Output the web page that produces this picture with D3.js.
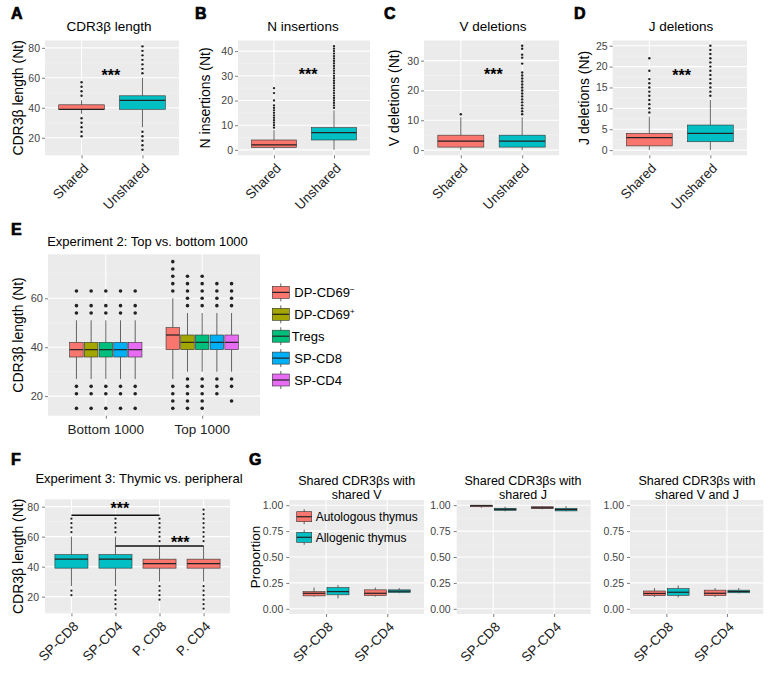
<!DOCTYPE html>
<html><head><meta charset="utf-8">
<script src="https://cdn.jsdelivr.net/npm/d3@7"></script>
<style>body{margin:0;background:#fff;}</style>
</head><body><svg id="c" width="771" height="690"></svg>
<script>
// ================= DATA =================
// Panel A: CDR3β length
const catsA = ["Shared", "Unshared"];
const boxesA = [
  {cat:"Shared",   lo:36, q1:39, med:39, q3:42, hi:45, out:[21,24,27,30,33,48,51,54,57]},
  {cat:"Unshared", lo:27, q1:39, med:45, q3:48, hi:60, out:[12,15,18,21,24,63,66,69,72,75,78,81]}
];
const ticksA = [20,40,60,80];
const starA = [0.48, 64];

// Panel B: N insertions
const catsB = ["Shared", "Unshared"];
const boxesB = [
  {cat:"Shared",   lo:0, q1:1, med:2, q3:4, hi:8,  out:[9,10,11,12,13,14,15,16,17,18,20,23,25]},
  {cat:"Unshared", lo:0, q1:4, med:7, q3:9, hi:16, out:[17,18,19,20,21,22,23,24,25,26,27,28,29,30,31,32,33,34,35,36,37,38,39,40,41,42]}
];
const ticksB = [0,10,20,30,40];
const starB = [0.57, 32.2];

// Panel C: V deletions
const catsC = ["Shared", "Unshared"];
const boxesC = [
  {cat:"Shared",   lo:0, q1:1, med:3, q3:5, hi:11, out:[12]},
  {cat:"Unshared", lo:0, q1:1, med:3, q3:5, hi:11, out:[12,13,14,15,16,17,18,19,20,21,22,23,24,25,26,29,31,32,34,35]}
];
const ticksC = [0,10,20,30];
const starC = [0.53, 26.5];

// Panel D: J deletions
const catsD = ["Shared", "Unshared"];
const boxesD = [
  {cat:"Shared",   lo:0, q1:1, med:3, q3:4, hi:8,  out:[9,10,11,12,13,14,15,16,17,19,22]},
  {cat:"Unshared", lo:0, q1:2, med:4, q3:6, hi:12, out:[13,14,15,16,17,18,19,20,21,22,23,24,25]}
];
const ticksD = [0,5,10,15,20,25];
const starD = [0.53, 18.7];

// Panel E: Experiment 2
const catsE = ["Bottom 1000", "Top 1000"];
const seriesE = ["DP-CD69-", "DP-CD69+", "Tregs", "SP-CD8", "SP-CD4"];
const boxesE = [
  {cat:"Bottom 1000", s:"DP-CD69-", lo:27, q1:36, med:39, q3:42, hi:51, out:[15,21,24,54,57,63]},
  {cat:"Bottom 1000", s:"DP-CD69+", lo:27, q1:36, med:39, q3:42, hi:51, out:[15,21,24,54,57,63]},
  {cat:"Bottom 1000", s:"Tregs",    lo:27, q1:36, med:39, q3:42, hi:51, out:[15,21,24,54,57,63]},
  {cat:"Bottom 1000", s:"SP-CD8",   lo:27, q1:36, med:39, q3:42, hi:51, out:[15,21,24,54,57,63]},
  {cat:"Bottom 1000", s:"SP-CD4",   lo:27, q1:36, med:39, q3:42, hi:51, out:[15,21,24,54,57,63]},
  {cat:"Top 1000", s:"DP-CD69-", lo:27, q1:39, med:45, q3:48, hi:60, out:[15,18,21,24,63,66,69,72,75]},
  {cat:"Top 1000", s:"DP-CD69+", lo:30, q1:39, med:42, q3:45, hi:54, out:[15,18,21,24,27,57,60,63,66,69]},
  {cat:"Top 1000", s:"Tregs",    lo:30, q1:39, med:42, q3:45, hi:54, out:[15,18,21,24,27,57,60,63,66,69]},
  {cat:"Top 1000", s:"SP-CD8",   lo:30, q1:39, med:42, q3:45, hi:54, out:[21,24,27,57,60,63,66]},
  {cat:"Top 1000", s:"SP-CD4",   lo:30, q1:39, med:42, q3:45, hi:54, out:[18,24,27,57,60,63,66]}
];
const ticksE = [20,40,60];

// Panel F: Experiment 3
const catsF = ["SP-CD8", "SP-CD4", "P. CD8", "P. CD4"];
const groupF = ["thymic", "thymic", "peripheral", "peripheral"];
const boxesF = [
  {cat:"SP-CD8", lo:27, q1:39, med:45, q3:48, hi:60, out:[21,24,63,66,69,72]},
  {cat:"SP-CD4", lo:27, q1:39, med:45, q3:48, hi:60, out:[12,15,18,21,24,63,66,69,72]},
  {cat:"P. CD8", lo:30, q1:39, med:42, q3:45, hi:54, out:[18,21,24,27,57,60,63,66,69,72]},
  {cat:"P. CD4", lo:30, q1:39, med:42, q3:45, hi:54, out:[12,15,18,21,24,27,57,60,63,66,69,72,75,78]}
];
const ticksF = [20,40,60,80];
const sigF = [
  {from:"SP-CD8", to:"P. CD8", y:74.2, sx:1.1,  sy:81.3},
  {from:"SP-CD4", to:"P. CD4", y:53.7, sx:2.47, sy:58.7}
];

// Panel G
const catsG = ["SP-CD8", "SP-CD4"];
const seriesG = ["Autologous thymus", "Allogenic thymus"];
const titlesG = [["Shared CDR3βs with","shared V"],["Shared CDR3βs with","shared J"],["Shared CDR3βs with","shared V and J"]];
const boxesG1 = [
  {cat:"SP-CD8", s:"Autologous thymus", lo:0.118, q1:0.125, med:0.15,  q3:0.166, hi:0.205},
  {cat:"SP-CD8", s:"Allogenic thymus",  lo:0.10,  q1:0.135, med:0.166, q3:0.205, hi:0.23},
  {cat:"SP-CD4", s:"Autologous thymus", lo:0.118, q1:0.128, med:0.15,  q3:0.183, hi:0.205},
  {cat:"SP-CD4", s:"Allogenic thymus",  lo:0.15,  q1:0.157, med:0.17,  q3:0.183, hi:0.20}
];
const boxesG2 = [
  {cat:"SP-CD8", s:"Autologous thymus", lo:0.975, q1:0.985, med:0.995, q3:1.0,   hi:1.0},
  {cat:"SP-CD8", s:"Allogenic thymus",  lo:0.94,  q1:0.95,  med:0.96,  q3:0.97,  hi:0.985},
  {cat:"SP-CD4", s:"Autologous thymus", lo:0.96,  q1:0.968, med:0.975, q3:0.985, hi:0.99},
  {cat:"SP-CD4", s:"Allogenic thymus",  lo:0.94,  q1:0.945, med:0.958, q3:0.97,  hi:0.99}
];
const boxesG3 = [
  {cat:"SP-CD8", s:"Autologous thymus", lo:0.115, q1:0.127, med:0.148, q3:0.172, hi:0.20},
  {cat:"SP-CD8", s:"Allogenic thymus",  lo:0.11,  q1:0.13,  med:0.16,  q3:0.195, hi:0.225},
  {cat:"SP-CD4", s:"Autologous thymus", lo:0.115, q1:0.127, med:0.15,  q3:0.18,  hi:0.20},
  {cat:"SP-CD4", s:"Allogenic thymus",  lo:0.148, q1:0.155, med:0.167, q3:0.18,  hi:0.20}
];
const ticksG = [0, 0.25, 0.5, 0.75, 1];

// ================= DRAWING =================
const svg = d3.select("#c");
const FONT = '"Liberation Sans", Arial, Helvetica, sans-serif';
const RED = "#F8766D", TEAL = "#00BFC4";
const colorE = d3.scaleOrdinal().domain(seriesE).range(["#F8766D","#A3A500","#00BF7D","#00B0F6","#E76BF3"]);
const colorG = d3.scaleOrdinal().domain(seriesG).range([RED, TEAL]);

function txt(g, x, y, s, fs, opt) {
  opt = opt || {};
  return g.append("text").attr("x", x).attr("y", y).text(s)
    .attr("font-family", FONT).attr("font-size", fs)
    .attr("fill", opt.fill || "#000")
    .attr("font-weight", opt.fw || "normal")
    .attr("text-anchor", opt.anchor || "start");
}

function makePanel(p) {
  const g = svg.append("g");
  const x = d3.scalePoint().domain(p.cats).range([p.x0, p.x1]).padding(0.6);
  const y = d3.scaleLinear().domain(p.ydom).range([p.y1, p.y0]);
  g.append("rect").attr("x", p.x0).attr("y", p.y0).attr("width", p.x1 - p.x0).attr("height", p.y1 - p.y0).attr("fill", "#EBEBEB");
  const minor = [];
  for (let i = 0; i < p.ticks.length - 1; i++) minor.push((p.ticks[i] + p.ticks[i+1]) / 2);
  const st = p.ticks[1] - p.ticks[0];
  if (p.ticks[0] - st/2 > p.ydom[0]) minor.push(p.ticks[0] - st/2);
  if (p.ticks[p.ticks.length-1] + st/2 < p.ydom[1]) minor.push(p.ticks[p.ticks.length-1] + st/2);
  g.selectAll("line.mn").data(minor).join("line").attr("class","mn")
    .attr("x1", p.x0).attr("x2", p.x1).attr("y1", d => y(d)).attr("y2", d => y(d))
    .attr("stroke", "#F4F4F4").attr("stroke-width", 0.6);
  g.selectAll("line.mj").data(p.ticks).join("line").attr("class","mj")
    .attr("x1", p.x0).attr("x2", p.x1).attr("y1", d => y(d)).attr("y2", d => y(d))
    .attr("stroke", "#fff").attr("stroke-width", 1.1);
  g.selectAll("line.vx").data(p.cats).join("line").attr("class","vx")
    .attr("x1", d => x(d)).attr("x2", d => x(d)).attr("y1", p.y0).attr("y2", p.y1)
    .attr("stroke", "#fff").attr("stroke-width", 1.1);
  // y axis
  const ya = d3.axisLeft(y).tickValues(p.ticks).tickSize(3).tickPadding(p.ytpad || 2)
    .tickFormat(p.fmt || d3.format("d"));
  const yg = g.append("g").attr("transform", `translate(${p.x0},0)`).call(ya);
  yg.select(".domain").remove();
  yg.selectAll(".tick line").attr("stroke", "#444").attr("stroke-width", 0.7);
  yg.selectAll(".tick text").attr("font-family", FONT).attr("font-size", p.ytfs || 10.5).attr("fill", "#444");
  // x axis ticks
  const xa = d3.axisBottom(x).tickSize(3).tickFormat("");
  const xg = g.append("g").attr("transform", `translate(0,${p.y1})`).call(xa);
  xg.select(".domain").remove();
  xg.selectAll(".tick line").attr("stroke", "#444").attr("stroke-width", 0.7);
  // x labels
  if (p.rot) {
    g.selectAll("text.xl").data(p.cats).join("text").attr("class","xl")
      .attr("transform", d => `translate(${x(d) + 1},${p.y1 + 7}) rotate(-45)`)
      .attr("text-anchor", "end").attr("dy", "0.71em")
      .attr("font-family", FONT).attr("font-size", p.xfs || 13.5).attr("fill", "#222")
      .text(d => d);
  } else {
    g.selectAll("text.xl").data(p.cats).join("text").attr("class","xl")
      .attr("x", d => x(d)).attr("y", p.y1 + 18.5)
      .attr("text-anchor", "middle")
      .attr("font-family", FONT).attr("font-size", p.xfs || 13).attr("fill", "#222")
      .text(d => d);
  }
  // y title
  if (p.ytitle) {
    g.append("text").attr("transform", `translate(${p.ytx},${(p.y0 + p.y1)/2}) rotate(-90)`)
      .attr("text-anchor", "middle").attr("dy", "0.35em")
      .attr("font-family", FONT).attr("font-size", p.ytfs2 || 14).attr("fill", "#000")
      .text(p.ytitle);
  }
  // title
  if (p.title) {
    const lines = Array.isArray(p.title) ? p.title : [p.title];
    lines.forEach((t, i) => txt(g, p.tx, p.ty + i * (p.tlh || 13), t, p.tfs || 13.5, {anchor: "middle"}));
  }
  return {g, x, y};
}

function drawBox(g, cx, w, b, y, fill, dotR) {
  g.append("line").attr("x1", cx).attr("x2", cx).attr("y1", y(b.hi)).attr("y2", y(b.q3))
    .attr("stroke", "#555").attr("stroke-width", 0.9);
  g.append("line").attr("x1", cx).attr("x2", cx).attr("y1", y(b.q1)).attr("y2", y(b.lo))
    .attr("stroke", "#555").attr("stroke-width", 0.9);
  g.append("rect").attr("x", cx - w/2).attr("y", y(b.q3)).attr("width", w)
    .attr("height", Math.max(1, y(b.q1) - y(b.q3)))
    .attr("fill", fill).attr("stroke", "#333").attr("stroke-width", 0.6);
  g.append("line").attr("x1", cx - w/2).attr("x2", cx + w/2).attr("y1", y(b.med)).attr("y2", y(b.med))
    .attr("stroke", "#222").attr("stroke-width", 1.2);
  if (b.out) {
    g.selectAll(null).data(b.out).join("circle")
      .attr("cx", cx).attr("cy", d => y(d)).attr("r", dotR).attr("fill", "#222");
  }
}

function stars(g, x, y, fs) {
  txt(g, x, y + 0.58 * fs, "***", fs, {anchor: "middle", fw: "bold"});
}

function letter(s, x, y) {
  txt(svg, x, y, s, 16, {fw: "900"}).attr("stroke", "#000").attr("stroke-width", 0.7);
}

// ---- Top row (A-D)
const topRow = [
  {cats:catsA, boxes:boxesA, ticks:ticksA, star:starA, x0:45, x1:179, ydom:[8.3,84.9], title:"CDR3β length", tx:109, ytitle:"CDR3β length (Nt)", ytx:18, L:"A", lx:11, dotR:1.2},
  {cats:catsB, boxes:boxesB, ticks:ticksB, star:starB, x0:238, x1:370, ydom:[-2.2,44.3], title:"N insertions", tx:303, ytitle:"N insertions (Nt)", ytx:205, L:"B", lx:195, dotR:1.15},
  {cats:catsC, boxes:boxesC, ticks:ticksC, star:starC, x0:424, x1:559, ydom:[-1.75,36.75], title:"V deletions", tx:493, ytitle:"V deletions (Nt)", ytx:394.5, L:"C", lx:384, dotR:1.2},
  {cats:catsD, boxes:boxesD, ticks:ticksD, star:starD, x0:612.7, x1:747, ydom:[-1.25,26.25], title:"J deletions", tx:681, ytitle:"J deletions (Nt)", ytx:584.5, L:"D", lx:574, dotR:1.2}
];
topRow.forEach(p => {
  const P = makePanel(Object.assign({y0:40.5, y1:155.3, rot:true, ty:31}, p));
  const bw = P.x.step() * 0.75;
  p.boxes.forEach((b, i) => drawBox(P.g, P.x(b.cat), bw, b, P.y, i === 0 ? RED : TEAL, p.dotR));
  stars(P.g, P.x(p.cats[0]) + p.star[0] * P.x.step(), P.y(p.star[1]), 16);
  letter(p.L, p.lx, 18.5);
});

// ---- Panel E
(function(){
  const P = makePanel({cats:catsE, ticks:ticksE, x0:48, x1:260, y0:254.3, y1:415.7, ydom:[12,78],
    title:"Experiment 2: Top vs. bottom 1000", tx:147.5, ty:246, tfs:13, ytitle:"CDR3β length (Nt)", ytx:18,
    rot:false, xfs:13.5, ytfs:11});
  const span = P.x.step() * 0.75;
  const inner = d3.scaleBand().domain(seriesE).range([-span/2, span/2]).paddingInner(0.08);
  boxesE.forEach(b => drawBox(P.g, P.x(b.cat) + inner(b.s) + inner.bandwidth()/2, inner.bandwidth(), b, P.y, colorE(b.s), 1.8));
  letter("E", 11, 235);
  // legend
  const lg = svg.append("g");
  const lx = 272.3, lw = 17, ly0 = 292.4, ldy = 21.9;
  seriesE.forEach((s, i) => {
    const cy = ly0 + i * ldy;
    lg.append("line").attr("x1", lx + lw/2).attr("x2", lx + lw/2).attr("y1", cy - 9).attr("y2", cy + 9)
      .attr("stroke", "#555").attr("stroke-width", 0.9);
    lg.append("rect").attr("x", lx).attr("y", cy - 6).attr("width", lw).attr("height", 12)
      .attr("fill", colorE(s)).attr("stroke", "#333").attr("stroke-width", 0.6);
    lg.append("line").attr("x1", lx).attr("x2", lx + lw).attr("y1", cy).attr("y2", cy)
      .attr("stroke", "#222").attr("stroke-width", 1.2);
    const t = lg.append("text").attr("x", s === "Tregs" ? 291.7 : 294.3).attr("y", cy + 5)
      .attr("font-family", FONT).attr("font-size", 13).attr("fill", "#000");
    if (s.startsWith("DP-CD69")) {
      t.append("tspan").text("DP-CD69");
      t.append("tspan").attr("font-size", 8).attr("dy", -5).text(s.endsWith("-") ? "−" : "+");
    } else {
      t.text(s);
    }
  });
})();

// ---- Panel F
(function(){
  const P = makePanel({cats:catsF, ticks:ticksF, x0:45, x1:230, y0:499.3, y1:613.3, ydom:[8.9,84.9],
    title:"Experiment 3: Thymic vs. peripheral", tx:139, ty:483, tfs:13, ytitle:"CDR3β length (Nt)", ytx:18,
    rot:true, ytfs:10.5, ytpad:3});
  const bw = P.x.step() * 0.75;
  boxesF.forEach((b, i) => drawBox(P.g, P.x(b.cat), bw, b, P.y, groupF[i] === "thymic" ? TEAL : RED, 1.1));
  sigF.forEach(s => {
    P.g.append("line").attr("x1", P.x(s.from)).attr("x2", P.x(s.to)).attr("y1", P.y(s.y)).attr("y2", P.y(s.y))
      .attr("stroke", "#111").attr("stroke-width", 1.5);
    stars(P.g, P.x(catsF[0]) + s.sx * P.x.step(), P.y(s.sy), 16);
  });
  letter("F", 11, 464.5);
})();

// ---- Panel G
const gPanels = [
  {boxes:boxesG1, x0:289.3, x1:424, tx:356.7, ytitle:"Proportion", ytx:255.5, legend:true},
  {boxes:boxesG2, x0:456.7, x1:590.7, tx:523, ytitle:null},
  {boxes:boxesG3, x0:630, x1:763.3, tx:697, ytitle:null}
];
gPanels.forEach((gp, k) => {
  const P = makePanel({cats:catsG, ticks:ticksG, x0:gp.x0, x1:gp.x1, y0:500, y1:614, ydom:[-0.05,1.05],
    title:titlesG[k], tx:gp.tx, ty:484.5, tfs:12.5, tlh:14.5, ytitle:gp.ytitle, ytx:gp.ytx, ytfs2:13.5,
    rot:true, fmt:d3.format(".2f"), ytfs:10.5, ytpad:3});
  const span = P.x.step() * 0.75;
  const inner = d3.scaleBand().domain(seriesG).range([-span/2, span/2]).paddingInner(0.08);
  gp.boxes.forEach(b => drawBox(P.g, P.x(b.cat) + inner(b.s) + inner.bandwidth()/2, inner.bandwidth(), b, P.y, colorG(b.s), 1));
  if (gp.legend) {
    const lx = 296.7, lw = 15;
    seriesG.forEach((s, i) => {
      const cy = 516.7 + i * 20.6;
      P.g.append("line").attr("x1", lx + lw/2).attr("x2", lx + lw/2).attr("y1", cy - 7.5).attr("y2", cy + 7.5)
        .attr("stroke", "#555").attr("stroke-width", 0.9);
      P.g.append("rect").attr("x", lx).attr("y", cy - 5).attr("width", lw).attr("height", 10)
        .attr("fill", colorG(s)).attr("stroke", "#333").attr("stroke-width", 0.6);
      P.g.append("line").attr("x1", lx).attr("x2", lx + lw).attr("y1", cy).attr("y2", cy)
        .attr("stroke", "#222").attr("stroke-width", 1.2);
      txt(P.g, 315.7, cy + 4.3, s, 12, {});
    });
  }
});
letter("G", 249, 464.5);
</script>
</body></html>
